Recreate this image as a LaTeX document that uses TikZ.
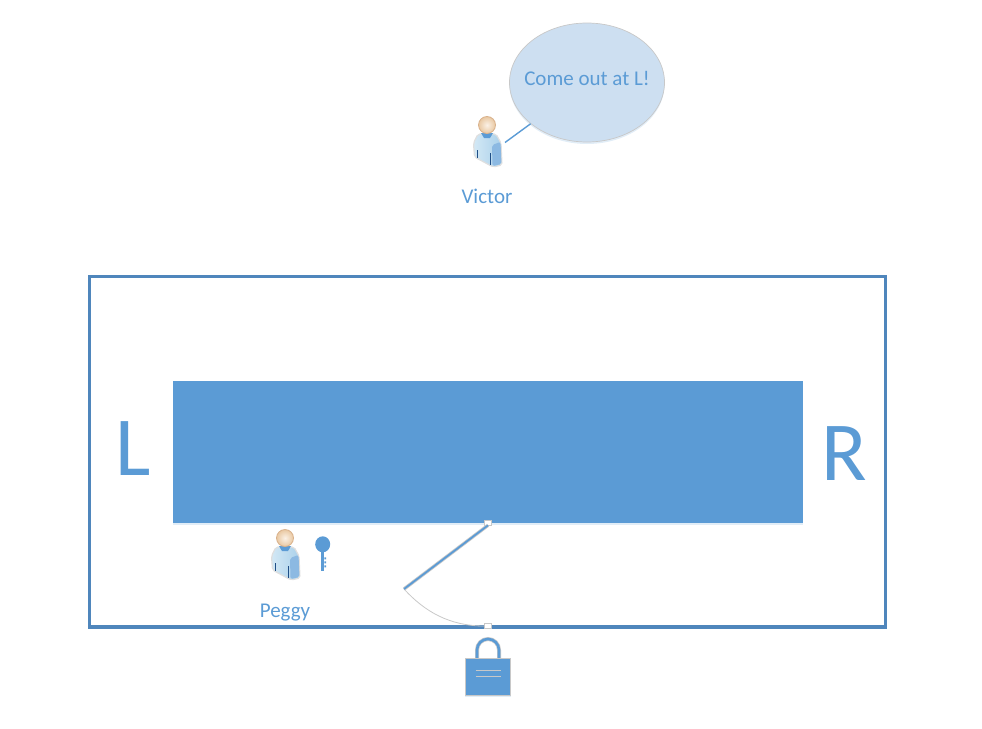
\documentclass[tikz,border=0pt]{standalone}
\usepackage{fontspec}
\setmainfont{Carlito}
\usetikzlibrary{shadows,shapes.geometric}
\definecolor{office}{HTML}{5B9BD5}
\definecolor{frameblue}{HTML}{4F86BC}
\definecolor{bubblefill}{HTML}{CDDFF1}
\definecolor{softgray}{HTML}{C8C8C8}
\definecolor{bodylight}{HTML}{D3E8F5}
\definecolor{bodymid}{HTML}{A9D0EA}
\definecolor{skinlight}{HTML}{FBF1E6}
\definecolor{skindark}{HTML}{E9C8A2}
\definecolor{navy}{HTML}{1F4E86}
\tikzset{
	softshadow/.style={drop shadow={shadow xshift=0pt,shadow yshift=-2pt,opacity=.18,fill=office}},
	label/.style={text=office,font=\fontsize{21}{24}\selectfont,inner sep=0pt},
	side/.style={text=office,font=\fontsize{84}{86}\selectfont,inner sep=0pt},
	grip/.style={draw=softgray,fill=white,line width=.6pt,minimum width=7pt,minimum height=5pt,inner sep=0pt},
	person/.pic={
		\draw[gray!25,line width=1.2pt,left color=bodylight,right color=bodymid,rounded corners=2pt] (-9,9) -- (9,9) -- (14,18) -- (15,40) -- (6,42) -- (-12.5,32) -- (-13.5,18) -- cycle;
		\fill[office!70!white,rounded corners=2pt] (5,20) -- (13.5,17) -- (14.5,39) -- (5.5,41) -- cycle;
		\fill[office] (-6,8) -- (6,8) -- (3,13) -- (-3,13) -- cycle;
		\draw[navy,line width=.8pt] (-10,25) -- (-10,33) (3,28) -- (3,40);
		\draw[brown!60!white,line width=.8pt,inner color=skinlight,outer color=skindark] (0,0) circle (8.5);
	},
	keyicon/.pic={
		\fill[office] (0,0) ellipse (7.5 and 8);
		\fill[office] (-2.2,4) rectangle (1.6,27);
		\fill[office] (1.6,13) rectangle (3.4,15) (1.6,17) rectangle (3.4,19) (1.6,21) rectangle (3.4,23);
	},
	lockicon/.pic={
		\draw[softgray,line width=4pt] (-11,22) -- (-11,13) arc[start angle=180,end angle=360,radius=11] -- (11,22);
		\draw[office,line width=2.6pt] (-11,22) -- (-11,13) arc[start angle=180,end angle=360,radius=11] -- (11,22);
		\draw[softgray,fill=office,line width=.8pt,softshadow] (-22.7,21.6) rectangle (22.7,58.3);
		\draw[softgray,line width=.7pt] (-12.5,33.6) -- (12.5,33.6) (-12.5,39.4) -- (12.5,39.4);
	}
}

\begin{document}
\begin{tikzpicture}[x=1pt,y=-1pt]
	\useasboundingbox (0,0) rectangle (982,728);

	% cave
	\draw[frameblue,line width=3.2pt] (89.5,276.5) rectangle (885.5,627);
	\node[fill=office,softshadow,minimum width=630pt,minimum height=142pt,inner sep=0pt] (wall) at (488,452) {};
	\node[side] (left) at (133,449) {L};
	\node[side] (right) at (844,453.5) {R};

	% door
	\node[grip] (hinge) at (488,522.5) {};
	\node[grip] (latch) at (488,626) {};
	\coordinate (doorend) at (404,589);
	\draw[softgray,line width=.8pt] (doorend) .. controls (425,612) and (450,626) .. (latch.west);
	\draw[softgray,line width=3.4pt] (hinge.south) -- (doorend);
	\draw[office,line width=1.8pt] (hinge.south) -- (doorend);
	\pic at (488,637) {lockicon};

	% victor
	\node[ellipse,draw=softgray,fill=bubblefill,softshadow,minimum width=155pt,minimum height=119pt,inner sep=0pt,line width=.7pt] (bubble) at (587,82.5) {};
	\node[label] (speech) at (587,78) {Come out at L!};
	\pic at (487,125) {person};
	\coordinate (victortail) at (505,142.5);
	\draw[office,line width=1.4pt] (victortail) -- (bubble);
	\node[label] (victor) at (487,196) {Victor};

	% peggy
	\pic at (285,538) {person};
	\pic at (322.7,544.3) {keyicon};
	\node[label] (peggy) at (285,612.5) {Peggy};
\end{tikzpicture}
\end{document}
